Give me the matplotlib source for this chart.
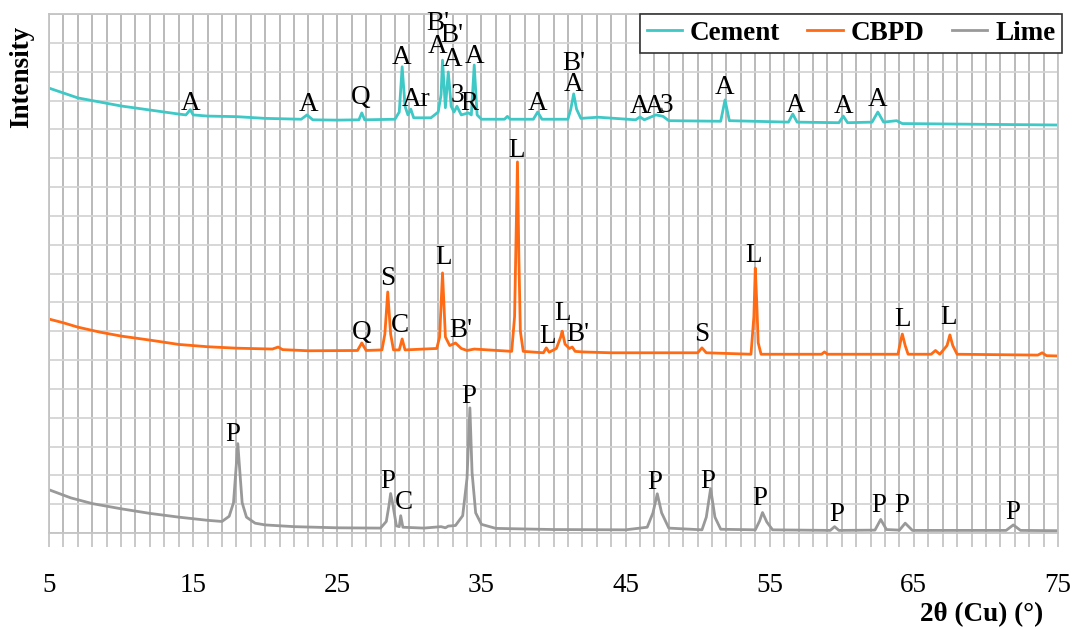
import matplotlib
matplotlib.use("Agg")
import matplotlib.pyplot as plt
from matplotlib.ticker import MultipleLocator, FixedLocator

# ---------------- data ----------------
cement_x = [5.0, 6.0, 7.0, 8.5, 10.0, 12.0, 14.0, 14.5, 14.8, 15.0, 16.0, 18.0, 20.0, 22.5, 22.9, 23.3,
            25.0, 26.5, 26.7, 26.9, 29.0, 29.3, 29.5, 29.7, 29.9, 30.1, 30.3, 31.5, 32.0, 32.2, 32.3,
            32.5, 32.7, 32.9, 33.1, 33.3, 33.6, 34.1, 34.3, 34.5, 34.7, 35.0, 36.6, 36.8, 37.0, 38.6,
            38.9, 39.2, 41.0, 41.2, 41.4, 41.6, 41.9, 43.1, 45.7, 46.0, 46.3, 47.1, 47.6, 48.0, 51.6,
            51.9, 52.2, 56.3, 56.6, 56.9, 59.8, 60.1, 60.4, 62.1, 62.5, 62.9, 63.8, 64.2, 75.0]
cement_y = [15.43, 15.26, 15.09, 14.95, 14.81, 14.67, 14.53, 14.50, 14.68, 14.50, 14.46, 14.44, 14.38,
            14.35, 14.50, 14.33, 14.32, 14.33, 14.57, 14.33, 14.35, 14.60, 16.17, 14.80, 14.50, 14.70,
            14.40, 14.40, 14.60, 15.20, 16.40, 14.75, 15.99, 14.80, 14.60, 14.80, 14.50, 14.57, 14.50,
            16.23, 14.50, 14.35, 14.35, 14.45, 14.35, 14.35, 14.60, 14.35, 14.35, 14.70, 15.23, 14.70,
            14.38, 14.42, 14.33, 14.43, 14.33, 14.50, 14.45, 14.30, 14.28, 15.02, 14.30, 14.25, 14.53,
            14.25, 14.23, 14.46, 14.23, 14.25, 14.60, 14.25, 14.30, 14.20, 14.15]

cbpd_x = [5.0, 6.0, 7.0, 8.5, 10.0, 12.0, 14.0, 16.0, 18.0, 20.5, 20.9, 21.2, 23.0, 26.4, 26.7, 27.0,
          28.1, 28.3, 28.5, 28.7, 28.9, 29.3, 29.5, 29.7, 31.9, 32.1, 32.3, 32.5, 32.8, 33.2, 33.6,
          34.0, 34.5, 37.1, 37.3, 37.5, 37.6, 37.7, 37.9, 39.3, 39.5, 39.7, 40.2, 40.5, 40.6, 40.8,
          41.1, 41.3, 41.5, 42.0, 44.0, 47.0, 50.0, 50.3, 50.6, 53.7, 53.9, 54.0, 54.1, 54.2, 54.4,
          58.6, 58.8, 59.0, 63.9, 64.1, 64.2, 64.4, 64.6, 66.2, 66.5, 66.8, 67.3, 67.5, 67.7, 68.0,
          73.6, 73.9, 74.2, 75.0]
cbpd_y = [7.42, 7.29, 7.14, 6.97, 6.83, 6.69, 6.54, 6.46, 6.41, 6.38, 6.45, 6.36, 6.32, 6.33, 6.59,
          6.33, 6.35, 6.90, 8.36, 6.90, 6.35, 6.35, 6.73, 6.35, 6.40, 6.80, 9.02, 6.80, 6.50, 6.59,
          6.40, 6.33, 6.38, 6.30, 7.50, 12.87, 9.50, 7.00, 6.30, 6.25, 6.42, 6.27, 6.40, 6.80, 7.00,
          6.55, 6.40, 6.45, 6.30, 6.28, 6.25, 6.25, 6.25, 6.42, 6.25, 6.20, 7.50, 9.19, 8.00, 6.60,
          6.20, 6.20, 6.28, 6.20, 6.20, 6.70, 6.90, 6.50, 6.20, 6.20, 6.33, 6.20, 6.50, 6.87, 6.50,
          6.20, 6.17, 6.25, 6.15, 6.14]

lime_x = [5.0, 6.5, 8.0, 10.0, 12.0, 14.0, 16.0, 17.0, 17.5, 17.8, 18.0, 18.1, 18.2, 18.4, 18.7,
          19.3, 20.0, 22.0, 25.0, 28.0, 28.4, 28.6, 28.7, 28.85, 29.1, 29.3, 29.4, 29.55, 31.0, 32.2,
          32.5, 32.7, 33.2, 33.7, 34.0, 34.2, 34.35, 34.6, 35.0, 36.0, 40.0, 45.0, 46.5, 46.9, 47.2,
          47.5, 48.0, 50.3, 50.6, 50.9, 51.2, 51.6, 54.0, 54.3, 54.5, 54.8, 55.2, 59.2, 59.5, 59.8,
          62.3, 62.7, 63.1, 64.0, 64.4, 64.9, 71.4, 71.9, 72.4, 75.0]
lime_y = [1.50, 1.22, 1.02, 0.84, 0.68, 0.55, 0.44, 0.40, 0.58, 1.05, 2.40, 3.10, 2.40, 1.05, 0.55,
          0.34, 0.28, 0.22, 0.18, 0.17, 0.40, 1.00, 1.37, 1.00, 0.25, 0.22, 0.60, 0.20, 0.17, 0.22,
          0.18, 0.24, 0.26, 0.60, 1.90, 4.34, 2.10, 0.70, 0.30, 0.16, 0.12, 0.11, 0.20, 0.70, 1.36,
          0.70, 0.17, 0.11, 0.55, 1.54, 0.55, 0.13, 0.11, 0.42, 0.71, 0.38, 0.11, 0.09, 0.22, 0.09,
          0.10, 0.47, 0.12, 0.10, 0.34, 0.09, 0.09, 0.28, 0.09, 0.08]

cement_labels = ["A", "A", "Q", "A", "Ar", "B'", "A", "B'", "A", "3", "R", "A", "A", "B'", "A",
                 "A", "A", "3", "A", "A", "A", "A"]
cement_lab_x = [14.79, 22.99, 26.60, 29.44, 30.49, 31.94, 31.94, 32.92, 32.99, 33.33, 34.17, 34.51,
                38.89, 41.39, 41.39, 45.97, 47.01, 47.85, 51.88, 56.80, 60.14, 62.50]
cement_lab_y = [14.88, 14.85, 15.12, 16.48, 15.02, 17.66, 16.86, 17.27, 16.41, 15.16, 14.88, 16.51,
                14.88, 16.30, 15.54, 14.78, 14.78, 14.81, 15.44, 14.81, 14.78, 15.02]

cbpd_labels = ["Q", "S", "C", "L", "B'", "L", "L", "L", "B'", "S", "L", "L", "L"]
cbpd_lab_x = [26.67, 28.47, 29.38, 32.36, 33.54, 37.43, 39.58, 40.63, 41.67, 50.28, 53.89, 64.24, 67.43]
cbpd_lab_y = [6.94, 8.81, 7.18, 9.57, 7.04, 13.25, 6.83, 7.63, 6.90, 6.90, 9.61, 7.42, 7.49]

lime_labels = ["P", "P", "C", "P", "P", "P", "P", "P", "P", "P", "P"]
lime_lab_x = [17.74, 28.50, 29.62, 34.12, 47.05, 50.73, 54.34, 59.63, 62.60, 64.19, 71.86]
lime_lab_y = [3.40, 1.77, 1.05, 4.75, 1.76, 1.78, 1.21, 0.65, 0.95, 0.95, 0.71]

series_names = ["Cement", "CBPD", "Lime"]
x_tick_values = [5, 15, 25, 35, 45, 55, 65, 75]

# ---------------- styling ----------------
SERIF = "Liberation Serif"
FS = 19.5
colors = ["#3ec8c6", "#ff6a13", "#999999"]

fig = plt.figure(figsize=(10.76, 6.30), dpi=100)
ax = fig.add_axes([49 / 1076, 1 - 533 / 630, (1058 - 49) / 1076, (533 - 14) / 630])

ax.set_xlim(5, 75)
ax.set_ylim(0, 18)

# grid
ax.xaxis.set_major_locator(FixedLocator(x_tick_values))
ax.xaxis.set_minor_locator(MultipleLocator(1))
ax.yaxis.set_major_locator(MultipleLocator(1))
ax.grid(which="both", axis="x", color="#b4b4b4", linewidth=1.3)
ax.grid(which="major", axis="y", color="#d4d4d4", linewidth=1.3)
ax.set_axisbelow(True)
for s in ax.spines.values():
    s.set_color("#c4c4c4")
    s.set_linewidth(1.3)

ax.tick_params(axis="x", which="both", direction="out", length=10, width=1.2, color="#c0c0c0",
               pad=19, labelsize=FS)
ax.tick_params(axis="y", which="both", length=0, labelleft=False)
ax.set_xticklabels([str(v) for v in x_tick_values], fontfamily=SERIF)

lines = []
for xs, ys, c, name in [(cement_x, cement_y, colors[0], series_names[0]),
                        (cbpd_x, cbpd_y, colors[1], series_names[1]),
                        (lime_x, lime_y, colors[2], series_names[2])]:
    ln, = ax.plot(xs, ys, color=c, linewidth=2.0, label=name, solid_joinstyle="round")
    lines.append(ln)

for labs, lx, ly in [(cement_labels, cement_lab_x, cement_lab_y),
                     (cbpd_labels, cbpd_lab_x, cbpd_lab_y),
                     (lime_labels, lime_lab_x, lime_lab_y)]:
    for t, x, y in zip(labs, lx, ly):
        ax.text(x, y, t, ha="center", va="center", fontsize=FS, fontfamily=SERIF, color="black")

leg = ax.legend(handles=lines, loc="upper right", bbox_to_anchor=(1.004, 1.0), ncol=3,
                prop={"family": SERIF, "weight": "bold", "size": FS},
                frameon=True, fancybox=False, handlelength=1.3, handletextpad=0.3,
                columnspacing=1.0, borderpad=0.25, borderaxespad=0.0)
leg.get_frame().set_edgecolor("#333333")
leg.get_frame().set_linewidth(1.2)
leg.get_frame().set_facecolor("white")
leg.get_frame().set_alpha(1.0)

fig.text(22 / 1076, 1 - 77 / 630, "Intensity", rotation=90, ha="center", va="center",
         fontsize=FS, fontweight="bold", fontfamily=SERIF)
fig.text(1043 / 1076, 1 - 615 / 630, "2θ (Cu) (°)", ha="right", va="center",
         fontsize=FS, fontweight="bold", fontfamily=SERIF)

fig.savefig("out.png", dpi=100)
